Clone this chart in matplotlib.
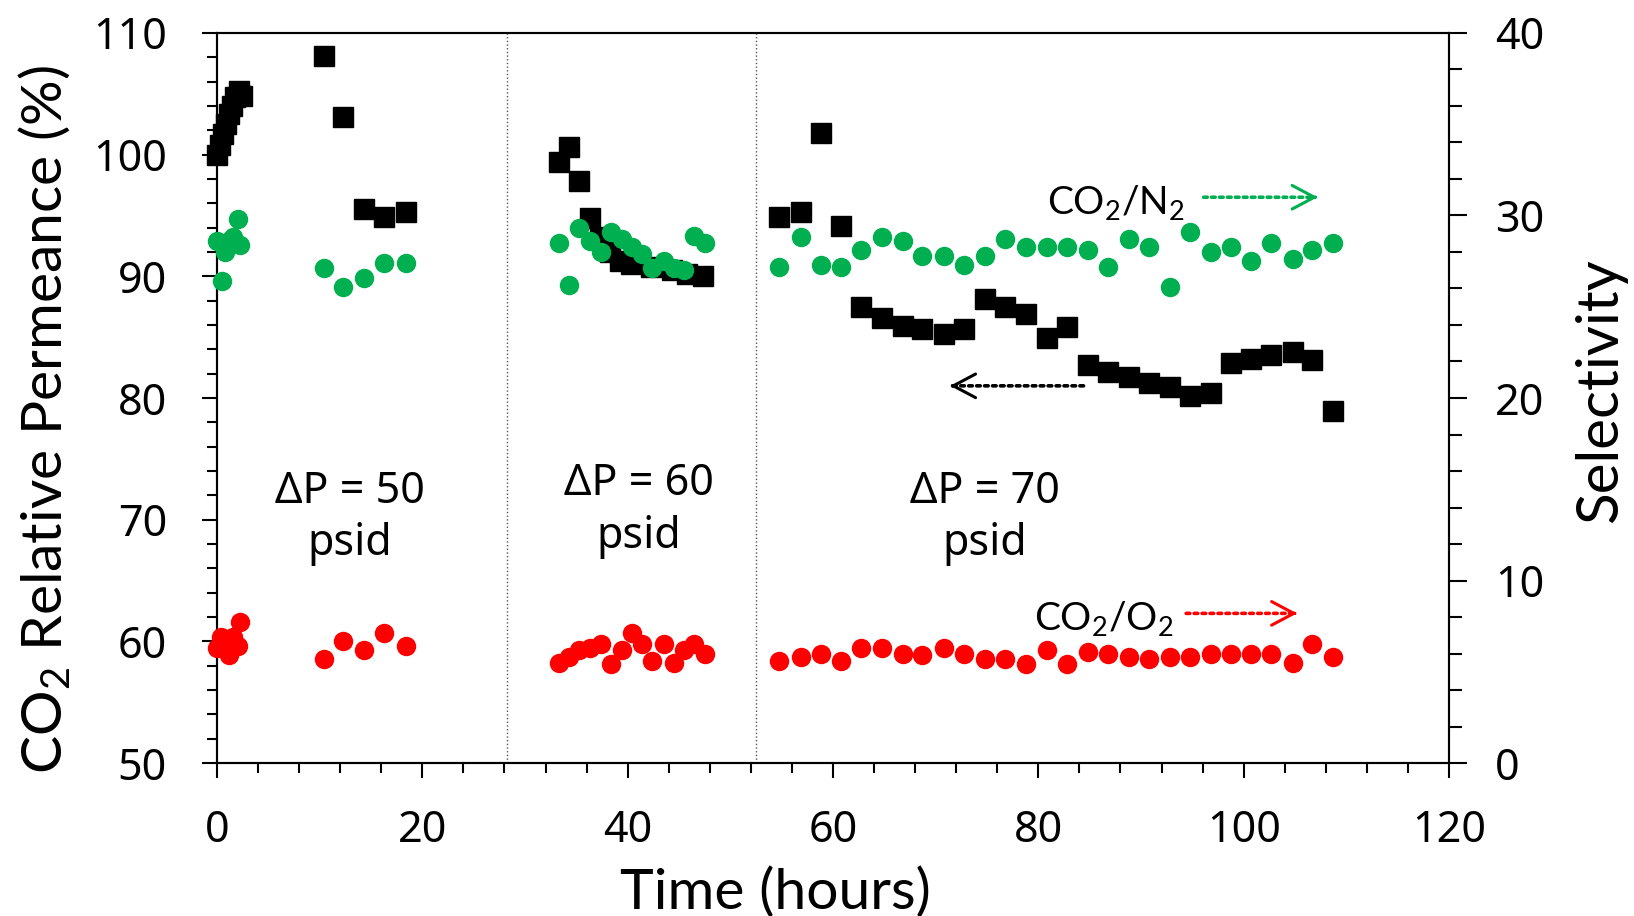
import numpy as np
import matplotlib
matplotlib.use('Agg')
import matplotlib.pyplot as plt
from matplotlib.ticker import MultipleLocator

plt.rcParams['mathtext.default'] = 'regular'

# CO2 relative permeance (%), left axis
perm_t = [0, 0.3, 0.6, 0.9, 1.2, 1.5, 1.8, 2.1, 2.4,
          10.4, 12.3, 14.3, 16.3, 18.4,
          33.3, 34.3, 35.3, 36.3, 37.3, 38.3, 39.3, 40.3, 42.3, 44.3, 45.8, 47.3,
          54.7, 56.9, 58.8, 60.8, 62.7, 64.8, 66.8, 68.7, 70.8, 72.8, 74.8,
          76.8, 78.8, 80.8, 82.8, 84.8, 86.8, 88.8, 90.8, 92.8, 94.8, 96.8,
          98.8, 100.7, 102.7, 104.8, 106.7, 108.7]
perm = [100.0, 100.8, 101.7, 102.5, 103.3, 104.0, 104.7, 105.2, 104.8,
        108.1, 103.1, 95.5, 94.9, 95.3,
        99.4, 100.6, 97.8, 94.8, 93.2, 92.0, 91.3, 91.0, 90.8, 90.5, 90.2, 90.0,
        94.9, 95.3, 101.8, 94.1, 87.5, 86.6, 85.9, 85.7, 85.3, 85.7, 88.1,
        87.5, 86.9, 84.9, 85.8, 82.7, 82.1, 81.7, 81.2, 80.9, 80.2, 80.4,
        82.9, 83.2, 83.5, 83.8, 83.1, 78.9]

# CO2/N2 selectivity, right axis
n2_t = [0, 0.5, 0.8, 1.2, 1.6, 2.0, 2.2,
        10.4, 12.3, 14.3, 16.3, 18.4,
        33.3, 34.3, 35.3, 36.3, 37.4, 38.4, 39.4, 40.4, 41.4, 42.4, 43.5, 44.5,
        45.5, 46.5, 47.5,
        54.7, 56.9, 58.8, 60.8, 62.7, 64.8, 66.8, 68.7, 70.8, 72.8, 74.8,
        76.8, 78.8, 80.8, 82.8, 84.8, 86.8, 88.8, 90.8, 92.8, 94.8, 96.8,
        98.8, 100.7, 102.7, 104.8, 106.7, 108.7]
sel_n2 = [28.6, 26.4, 28.0, 28.6, 28.8, 29.8, 28.4,
          27.1, 26.1, 26.6, 27.4, 27.4,
          28.5, 26.2, 29.3, 28.6, 28.0, 29.1, 28.7, 28.3, 27.9, 27.1, 27.5, 27.1,
          27.0, 28.9, 28.5,
          27.2, 28.8, 27.3, 27.2, 28.1, 28.8, 28.6, 27.8, 27.8, 27.3, 27.8,
          28.7, 28.3, 28.3, 28.3, 28.1, 27.2, 28.7, 28.3, 26.1, 29.1, 28.0,
          28.3, 27.5, 28.5, 27.6, 28.1, 28.5]

# CO2/O2 selectivity, right axis
o2_t = [0, 0.4, 0.8, 1.2, 1.6, 2.0, 2.2,
        10.4, 12.3, 14.3, 16.3, 18.4,
        33.3, 34.3, 35.3, 36.3, 37.4, 38.4, 39.4, 40.4, 41.4, 42.4, 43.5, 44.5,
        45.5, 46.5, 47.5,
        54.7, 56.9, 58.8, 60.8, 62.7, 64.8, 66.8, 68.7, 70.8, 72.8, 74.8,
        76.8, 78.8, 80.8, 82.8, 84.8, 86.8, 88.8, 90.8, 92.8, 94.8, 96.8,
        98.8, 100.7, 102.7, 104.8, 106.7, 108.7]
sel_o2 = [6.3, 6.9, 6.5, 5.9, 6.9, 6.4, 7.7,
          5.7, 6.7, 6.2, 7.1, 6.4,
          5.5, 5.8, 6.2, 6.3, 6.5, 5.4, 6.2, 7.1, 6.5, 5.6, 6.5, 5.5,
          6.2, 6.5, 6.0,
          5.6, 5.8, 6.0, 5.6, 6.3, 6.3, 6.0, 5.9, 6.3, 6.0, 5.7,
          5.7, 5.4, 6.2, 5.4, 6.1, 6.0, 5.8, 5.7, 5.8, 5.8, 6.0,
          6.0, 6.0, 6.0, 5.5, 6.5, 5.8]

# pressure step changes (hours) and their labels
steps = [28.2, 52.5]
dp_x = [12.9, 41.1, 74.8]
dp_y = [71.4, 72.0, 71.4]
dp_labels = ['\u0394P = 50', '\u0394P = 60', '\u0394P = 70']

green = '#00B050'
red = '#FF0000'
tick_font = 'Noto Sans'
label_font = 'Lato'


def dotted_arrow(a, start, end, color):
    # dotted shaft, solid open head
    a.annotate('', xy=end, xytext=start,
               arrowprops=dict(arrowstyle='-', lw=2.6, linestyle=(0, (1, 1.2)),
                               color=color, shrinkA=0, shrinkB=2))
    back = (end[0] - 0.3 * np.sign(end[0] - start[0]), end[1])
    a.annotate('', xy=end, xytext=back,
               arrowprops=dict(arrowstyle='->,head_length=1.6,head_width=0.85',
                               lw=2.2, color=color, shrinkA=0, shrinkB=0))


fig = plt.figure(figsize=(16.34, 9.16), dpi=100)
ax = fig.add_axes([0.1328, 0.167, 0.754, 0.797])
ax2 = ax.twinx()

ax.plot(perm_t, perm, 's', color='black', markersize=15, clip_on=False, zorder=3)
ax2.plot(n2_t, sel_n2, 'o', color=green, markersize=14, markeredgewidth=0,
         clip_on=False, zorder=3)
ax2.plot(o2_t, sel_o2, 'o', color=red, markersize=14, markeredgewidth=0,
         clip_on=False, zorder=3)

for s in steps:
    ax.axvline(s, color='#555555', linewidth=1, linestyle=':')

ax.set_xlim(0, 120)
ax.set_ylim(50, 110)
ax2.set_ylim(0, 40)

ax.xaxis.set_major_locator(MultipleLocator(20))
ax.xaxis.set_minor_locator(MultipleLocator(4))
ax.yaxis.set_major_locator(MultipleLocator(10))
ax.yaxis.set_minor_locator(MultipleLocator(2))
ax2.yaxis.set_major_locator(MultipleLocator(10))
ax2.yaxis.set_minor_locator(MultipleLocator(2))

for a in (ax, ax2):
    for sp in a.spines.values():
        sp.set_linewidth(1.5)

ax.tick_params(axis='y', which='major', direction='out', length=11, width=1.5,
               pad=25, labelsize=31)
ax.tick_params(axis='y', which='minor', direction='out', length=7, width=1.5)
ax.tick_params(axis='x', which='major', direction='out', length=11, width=1.5,
               pad=22, labelsize=31)
ax.tick_params(axis='x', which='minor', direction='out', length=7, width=1.5)
ax2.tick_params(axis='y', which='major', direction='out', length=13, width=1.5,
                pad=20, labelsize=31)
ax2.tick_params(axis='y', which='minor', direction='out', length=9.5, width=1.5)
for lab in ax.get_xticklabels() + ax.get_yticklabels() + ax2.get_yticklabels():
    lab.set_fontfamily(tick_font)
    lab.set_fontweight('medium')

ax.set_xlabel('Time (hours)', fontsize=41, family=label_font)
ax.xaxis.set_label_coords(0.453, -0.178)
ax.xaxis.label.set_va('center')
ax.set_ylabel('CO$_2$ Relative Permeance (%)', fontsize=41, family=label_font)
ax.yaxis.set_label_coords(-0.1396, 0.471)
ax.yaxis.label.set_va('center')
ax2.set_ylabel('Selectivity', fontsize=42, family=label_font, rotation=90)
ax2.yaxis.set_label_coords(1.1226, 0.51)
ax2.yaxis.label.set_va('center')

for x, y, t in zip(dp_x, dp_y, dp_labels):
    ax.text(x, y, t, ha='center', va='baseline', fontsize=31, family=tick_font,
            fontweight='medium')
    ax.text(x, y - 4.3, 'psid', ha='center', va='baseline', fontsize=31,
            family=tick_font, fontweight='medium')

ax2.text(80.8, 30.1, 'CO$_2$/N$_2$', ha='left', va='baseline', fontsize=28,
         family=label_font)
ax2.text(79.6, 7.3, 'CO$_2$/O$_2$', ha='left', va='baseline', fontsize=28,
         family=label_font)

dotted_arrow(ax2, (96.1, 31.0), (107.2, 31.0), green)
dotted_arrow(ax2, (94.4, 8.2), (105.2, 8.2), red)
dotted_arrow(ax, (84.4, 81.0), (71.4, 81.0), 'black')

fig.savefig('out.png', dpi=100)
